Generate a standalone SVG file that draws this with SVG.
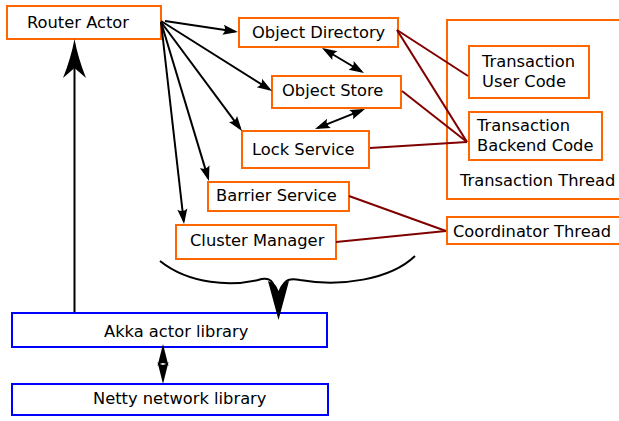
<svg xmlns="http://www.w3.org/2000/svg" width="619" height="421" viewBox="0 0 619 421">
<style>
.o{fill:#fff;stroke:#ff6600;stroke-width:2}
.b{fill:#fff;stroke:#0000ff;stroke-width:2}
.t{font-family:"DejaVu Sans","Liberation Sans",sans-serif;font-size:16.3px;fill:#000}
.k{stroke:#000;stroke-width:2;fill:none}
.r{stroke:#800000;stroke-width:2;fill:none}
</style>
<defs>
<marker id="ah" viewBox="-14 -6 18 12" refX="0" refY="0" markerWidth="18" markerHeight="12" markerUnits="userSpaceOnUse" orient="auto-start-reverse">
<path d="M3,0 L-12,-5 Q-8,0 -12,5 Z" fill="#000"/>
</marker>
</defs>
<rect width="619" height="421" fill="#fff"/>
<g id="router-actor"><rect class="o" x="7" y="6" width="154" height="33"/><text class="t" x="27" y="28">Router Actor</text></g>
<g id="object-directory"><rect class="o" x="239" y="18" width="159" height="29"/><text class="t" x="252" y="38">Object Directory</text></g>
<g id="object-store"><rect class="o" x="272" y="76" width="129" height="32"/><text class="t" x="282" y="96">Object Store</text></g>
<g id="lock-service"><rect class="o" x="242" y="131" width="127" height="37"/><text class="t" x="252" y="155">Lock Service</text></g>
<g id="barrier-service"><rect class="o" x="208" y="182" width="141" height="29"/><text class="t" x="216" y="200.5">Barrier Service</text></g>
<g id="cluster-manager"><rect class="o" x="176" y="225" width="160" height="34"/><text class="t" x="190" y="246">Cluster Manager</text></g>
<g id="transaction-thread"><rect class="o" x="447" y="20" width="180" height="179"/><text class="t" x="460" y="186">Transaction Thread</text></g>
<g id="transaction-user-code"><rect class="o" x="469" y="46" width="120" height="52"/><text class="t" x="482" y="67">Transaction</text><text class="t" x="482" y="87">User Code</text></g>
<g id="transaction-backend-code"><rect class="o" x="469" y="112" width="133" height="48"/><text class="t" x="477" y="131">Transaction</text><text class="t" x="477" y="151">Backend Code</text></g>
<g id="coordinator-thread"><rect class="o" x="447" y="217" width="180" height="27"/><text class="t" x="453" y="237">Coordinator Thread</text></g>
<g id="akka"><rect class="b" x="12" y="313" width="315" height="34"/><text class="t" x="104" y="337">Akka actor library</text></g>
<g id="netty"><rect class="b" x="12" y="384" width="316" height="31"/><text class="t" x="93" y="404">Netty network library</text></g>
<g id="connectors">
<line class="r" x1="397" y1="30" x2="468" y2="76"/>
<line class="r" x1="397" y1="30" x2="467" y2="142"/>
<line class="r" x1="402" y1="91" x2="467" y2="142"/>
<line class="r" x1="370" y1="148" x2="467" y2="142"/>
<line class="r" x1="349" y1="196" x2="446" y2="231"/>
<line class="r" x1="336" y1="242" x2="446" y2="231"/>
<line class="k" x1="165" y1="21" x2="235" y2="31.6" marker-end="url(#ah)"/>
<line class="k" x1="161" y1="21" x2="269.5" y2="89.4" marker-end="url(#ah)"/>
<line class="k" x1="161" y1="22" x2="240.2" y2="128.6" marker-end="url(#ah)"/>
<line class="k" x1="161" y1="22" x2="208.1" y2="178.1" marker-end="url(#ah)"/>
<line class="k" x1="161" y1="22" x2="183.7" y2="221" marker-end="url(#ah)"/>
<line class="k" x1="324.6" y1="49.5" x2="361.4" y2="71.5" marker-start="url(#ah)" marker-end="url(#ah)"/>
<line class="k" x1="362.2" y1="110.1" x2="317.8" y2="127.9" marker-start="url(#ah)" marker-end="url(#ah)"/>
<path d="M163,344 L168.5,366 Q163,360 157.5,366 Z" fill="#000"/>
<path d="M163,384 L157.5,362 Q163,368 168.5,362 Z" fill="#000"/>
<line class="k" x1="74.5" y1="312" x2="74.5" y2="66"/>
<path d="M74.5,39 Q78,58 86,78 L74.5,68 L63,78 Q71,58 74.5,39 Z" fill="#000"/>
<path class="k" d="M160,261 C190,285 232,286 258,280 C267,277 273,279 275,289"/>
<path class="k" d="M415,256 C390,280 340,287 300,280 C291,278 284,279 282,289"/>
<path d="M278.5,320 L268,281 Q276,283 278.5,291 Q281,283 289,281 Z" fill="#000"/>
</g>
</svg>
